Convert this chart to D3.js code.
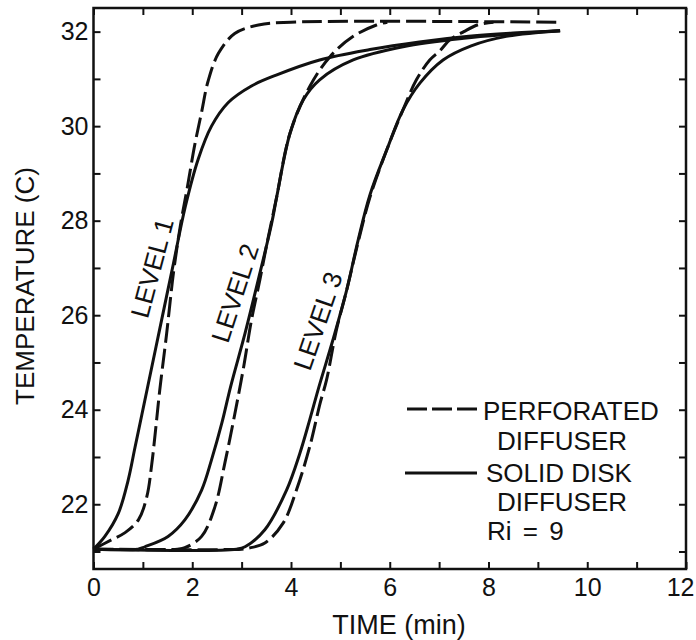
<!DOCTYPE html>
<html>
<head>
<meta charset="utf-8">
<script src="https://d3js.org/d3.v7.min.js"></script>
<style>
  body { margin: 0; background: #fff; }
  svg text { font-family: "Liberation Sans", Arial, Helvetica, sans-serif; fill: #111; }
</style>
</head>
<body>
<div id="chart"></div>
<script>
// time (min), temperature (C)
var level1Solid = [[0,21.05],[0.23,21.32],[0.5,21.8],[0.7,22.5],[0.84,23.2],[0.98,23.9],[1.09,24.45],[1.34,25.7],[1.62,27.1],[1.86,28.3],[2.12,29.3],[2.39,30.0],[2.73,30.5],[3.2,30.85],[3.7,31.08],[4.58,31.4],[5.6,31.62],[6.6,31.78],[7.6,31.9],[8.5,31.97],[9.45,32.02]];
var level1Dashed = [[0,21.05],[0.37,21.25],[0.64,21.4],[0.91,21.67],[1.08,22.16],[1.18,22.85],[1.26,23.6],[1.34,24.4],[1.48,25.6],[1.62,26.9],[1.76,27.9],[1.9,28.7],[2.05,29.6],[2.19,30.3],[2.32,30.95],[2.53,31.54],[2.86,31.96],[3.34,32.14],[4.0,32.2],[9.45,32.2]];
var level2Solid = [[0,21.05],[0.9,21.05],[1.04,21.1],[1.51,21.32],[1.85,21.67],[2.19,22.3],[2.39,22.94],[2.6,23.72],[2.78,24.5],[3.07,25.62],[3.37,26.89],[3.61,27.95],[3.71,28.5],[3.98,29.85],[4.25,30.56],[4.58,30.98],[5.26,31.4],[6.27,31.68],[7.5,31.86],[8.5,31.95],[9.45,32.02]];
var level2Dashed = [[0,21.05],[1.7,21.05],[1.85,21.08],[2.19,21.32],[2.46,21.95],[2.66,22.87],[2.86,23.9],[3.04,24.9],[3.2,25.9],[3.37,26.75],[3.5,27.45],[3.7,28.45],[3.98,29.85],[4.38,30.84],[4.79,31.47],[5.26,31.9],[5.73,32.14],[5.95,32.2]];
var level3Solid = [[0,21.05],[2.9,21.05],[3.07,21.1],[3.47,21.46],[3.91,22.3],[4.18,23.08],[4.38,23.79],[4.57,24.5],[4.85,25.48],[5.13,26.54],[5.36,27.59],[5.6,28.55],[5.94,29.5],[6.27,30.35],[6.61,30.91],[7.08,31.4],[7.65,31.7],[8.36,31.9],[9.45,32.02]];
var level3Dashed = [[0,21.05],[3.0,21.05],[3.13,21.07],[3.47,21.18],[3.84,21.6],[4.11,22.3],[4.38,23.22],[4.59,24.14],[4.72,24.63],[4.92,25.69],[5.13,26.54],[5.36,27.55],[5.6,28.5],[5.94,29.5],[6.27,30.35],[6.54,30.98],[6.81,31.4],[7.02,31.6],[7.22,31.83],[7.5,32.0],[7.8,32.15],[8.1,32.2]];

var xTicks = [0,1,2,3,4,5,6,7,8,9,10,11,12];
var yTicks = [21,22,23,24,25,26,27,28,29,30,31,32];
var levelLabels = ["LEVEL 1", "LEVEL 2", "LEVEL 3"];
var labelSpots = [[1.18,27.0],[2.86,26.47],[4.54,25.88]];
var labelAngles = [-75, -72, -71];

var W = 696, H = 640;
var x = d3.scaleLinear().domain([0, 12]).range([93.5, 686]);
var y = d3.scaleLinear().domain([20.63, 32.5]).range([569, 8]);

var svg = d3.select("#chart").append("svg")
    .attr("width", W)
    .attr("height", H);

// inward ticks all round
var even = function(d) { return d % 2 === 0 ? d : ""; };

var bottom = svg.append("g")
    .attr("transform", "translate(0," + y.range()[0] + ")")
    .style("font-size", "25px")
    .call(d3.axisBottom(x).tickValues(xTicks).tickSizeInner(-7).tickSizeOuter(0).tickPadding(9).tickFormat(even));

// last label sits inside the page like in the original
bottom.selectAll(".tick text")
    .filter(function(d) { return d === 12; })
    .attr("text-anchor", "end")
    .attr("x", 8);

svg.append("g")
    .attr("transform", "translate(0," + y.range()[1] + ")")
    .call(d3.axisTop(x).tickValues(xTicks).tickSizeInner(-7).tickSizeOuter(0).tickFormat(""));

svg.append("g")
    .attr("transform", "translate(" + x.range()[0] + ",0)")
    .style("font-size", "25px")
    .call(d3.axisLeft(y).tickValues(yTicks).tickSizeInner(-7).tickSizeOuter(0).tickPadding(5).tickFormat(even));

svg.append("g")
    .attr("transform", "translate(" + x.range()[1] + ",0)")
    .call(d3.axisRight(y).tickValues(yTicks).tickSizeInner(-7).tickSizeOuter(0).tickFormat(""));

svg.selectAll(".domain").remove();
svg.selectAll(".tick line").attr("stroke", "#111").attr("stroke-width", 2);
svg.selectAll(".tick text").attr("fill", "#111");

svg.append("rect")
    .attr("x", x.range()[0])
    .attr("y", y.range()[1])
    .attr("width", x.range()[1] - x.range()[0])
    .attr("height", y.range()[0] - y.range()[1])
    .attr("fill", "none")
    .attr("stroke", "#111")
    .attr("stroke-width", 2.5);

// curves
var line = d3.line()
    .x(function(d) { return x(d[0]); })
    .y(function(d) { return y(d[1]); })
    .curve(d3.curveCatmullRom.alpha(0.5));

var series = [
  {data: level1Solid, dash: null},
  {data: level2Solid, dash: null},
  {data: level3Solid, dash: null},
  {data: level1Dashed, dash: "20,6"},
  {data: level2Dashed, dash: "20,6"},
  {data: level3Dashed, dash: "20,6"}
];

svg.selectAll(".curve")
    .data(series)
  .enter().append("path")
    .attr("class", "curve")
    .attr("d", function(d) { return line(d.data); })
    .attr("fill", "none")
    .attr("stroke", "#111")
    .attr("stroke-width", 3)
    .attr("stroke-dasharray", function(d) { return d.dash; });

// level labels
svg.selectAll(".lvl")
    .data(levelLabels)
  .enter().append("text")
    .attr("class", "lvl")
    .attr("transform", function(d, i) {
      return "translate(" + x(labelSpots[i][0]) + "," + y(labelSpots[i][1]) + ") rotate(" + labelAngles[i] + ")";
    })
    .attr("text-anchor", "middle")
    .attr("dy", "0.36em")
    .style("font-size", "26px")
    .text(function(d) { return d; });

// legend
svg.append("line")
    .attr("x1", 407).attr("x2", 477).attr("y1", 409).attr("y2", 409)
    .attr("stroke", "#111").attr("stroke-width", 3).attr("stroke-dasharray", "20,5");
svg.append("line")
    .attr("x1", 405).attr("x2", 477).attr("y1", 473).attr("y2", 473)
    .attr("stroke", "#111").attr("stroke-width", 3);

var legendText = [["PERFORATED", 483, 420], ["DIFFUSER", 497, 450], ["SOLID DISK", 486, 482], ["DIFFUSER", 497, 511], ["Ri = 9", 487, 540]];
svg.selectAll(".leg")
    .data(legendText)
  .enter().append("text")
    .attr("class", "leg")
    .attr("x", function(d) { return d[1]; })
    .attr("y", function(d) { return d[2]; })
    .style("font-size", "26px")
    .style("word-spacing", function(d) { return d[0] === "Ri = 9" ? "4px" : null; })
    .text(function(d) { return d[0]; });

// axis titles
svg.append("text")
    .attr("x", 399)
    .attr("y", 634)
    .attr("text-anchor", "middle")
    .style("font-size", "27px")
    .text("TIME (min)");

svg.append("text")
    .attr("transform", "translate(34,286) rotate(-90)")
    .attr("text-anchor", "middle")
    .style("font-size", "26px")
    .text("TEMPERATURE (C)");
</script>
</body>
</html>
